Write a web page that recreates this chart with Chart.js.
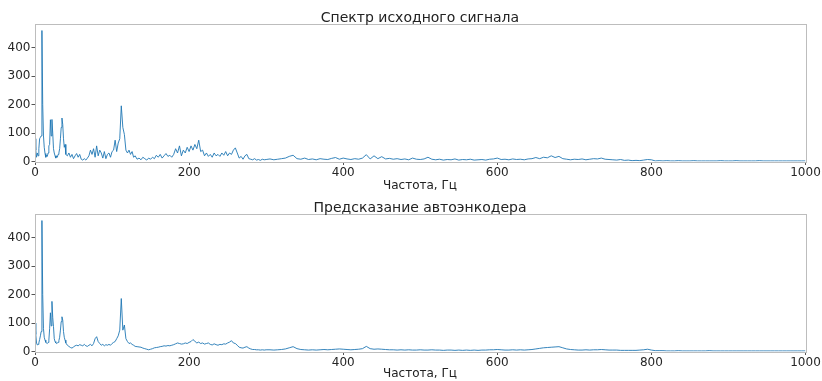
<!DOCTYPE html>
<html><head><meta charset="utf-8">
<script src="https://cdn.jsdelivr.net/npm/chart.js@4"></script>
<style>
html,body{margin:0;padding:0;background:#fff;}
#wrap{position:relative;width:822px;height:381px;overflow:hidden;font-family:"DejaVu Sans",sans-serif;color:#222;}
canvas{position:absolute;left:0;}
.t{position:absolute;left:0;width:840px;text-align:center;white-space:nowrap;}
</style></head>
<body><div id="wrap">
<canvas id="c1" width="822" height="190" style="top:0px"></canvas>
<canvas id="c2" width="822" height="191" style="top:190px"></canvas>
<div class="t" style="top:8px;font-size:14px;line-height:18px">Спектр исходного сигнала</div>
<div class="t" style="top:177px;font-size:12px;line-height:16px">Частота, Гц</div>
<div class="t" style="top:198px;font-size:14px;line-height:18px">Предсказание автоэнкодера</div>
<div class="t" style="top:365px;font-size:12px;line-height:16px">Частота, Гц</div>
</div>
<script>
// frequency grid segments: [start, end, step] (Hz)
const freqSegments = [[0,40,1],[42,130,2],[132.5,300,2.5],[305,1000,5]];
const xTicks = [0,200,400,600,800,1000];
const yTicks = [0,100,200,300,400];

// original signal spectrum
const origA = [80,40,15,30,20,45,80,85,90,461,200,90,50,28,15,22,18,30,55,60,147,90,148,100,45,30,20,12,20,15,25,30,45,80,120,153,130,80,50,60,25];
const origB = [20,30,15,25,10,20,28,15,25,8, 5,10,5,12,20,40,25,45,15,55, 20,40,30,12,35,10,25,30,15,35, 40,75,35,65,80,196,120,95,40,30, 40,25,35,15,20];
const origC = [8,12,6,15,10,5,12,8,15,10, 22,15,25,12,20,28,18,22,15,25, 45,30,55,20,40,30,50,35,55,40, 60,45,75,35,40,20,30,18,25,15, 30,20,25,18,30,22,35,20,30,25, 40,48,30,12,18,8,20,25,10,8, 6,10,5,7,4,8,6,7];
const origD = [9,6,8,10,12,18,22,10,8,12, 7,9,6,10,8,7,11,14,8,12, 9,7,10,8,12,24,9,20,10,17, 9,11,8,10,7,9,6,12,8,7,
  9,15,8,6,8,5,7,6,9,5, 7,6,8,5,6,7,5,8,9,12, 7,8,6,9,7,8,6,9,10,14, 10,15,13,20,14,18,10,8,6,8,
  7,9,6,8,10,9,12,8,7,6, 5,7,4,5,3,4,3,5,7,6, 2,3,2,3,2,2,3,2,2,2, 3,2,2,2,2,2,2,3,2,2,
  2,3,2,2,2,2,2,3,2,2, 2,2,2,2,2,2,2,2,2,2];

// autoencoder prediction
const predA = [100,60,30,23,25,30,42,55,70,460,200,80,50,40,32,30,28,32,40,80,136,90,176,120,87,45,35,30,28,30,32,38,50,75,105,122,110,70,50,40,30];
const predB = [22,18,14,12,16,20,22,20,24,22, 20,25,20,18,22,25,20,28,45,52, 35,28,22,25,20,24,22,25,22,28, 32,35,45,55,75,186,75,93,45,35, 28,30,25,22,18];
const predC = [17,16,15,12,10,8,6,8,10,13, 14,15,17,18,20,19,21,20,22,24, 27,30,28,26,27,30,28,32,35,42, 36,30,33,28,30,26,28,30,25,23, 27,24,22,25,24,27,26,30,33,38, 30,28,22,15,13,12,15,17,12,9, 7,7,6,6,5,6,5,6];
const predD = [6,5,6,7,9,13,17,10,7,6, 5,6,5,6,7,6,7,8,9,8, 7,6,7,8,10,18,10,8,9,8, 7,6,6,5,6,5,6,5,5,6,
  5,5,6,5,5,4,5,5,4,5, 4,5,4,5,4,5,5,6,6,7, 6,5,5,6,5,6,5,6,7,9, 11,13,14,15,16,17,13,9,7,6,
  5,5,6,5,6,6,7,6,5,5, 5,4,4,4,4,4,5,6,8,5, 3,3,3,2,2,2,3,2,2,2, 2,2,2,2,3,2,2,2,2,2,
  2,2,2,2,2,2,2,2,2,2, 2,2,2,2,2,2,2,2,2,2];

const freqs = [];
freqSegments.forEach(([a,b,s]) => { for (let f=a; f<=b+1e-9; f+=s) freqs.push(Math.round(f*10)/10); });
const origVals = [...origA, ...origB, ...origC, ...origD];
const predVals = [...predA, ...predB, ...predC, ...predD];

const framePlugin = {
  id:'frame',
  afterDatasetsDraw(chart){
    const {ctx, chartArea:a} = chart;
    ctx.save();
    ctx.strokeStyle = '#bdbdbd';
    ctx.lineWidth = 1;
    ctx.strokeRect(Math.round(a.left)+0.5, Math.round(a.top)+0.5, Math.round(a.right-a.left), Math.round(a.bottom-a.top));
    ctx.restore();
  }
};

function makeChart(id, vals, ymax, xh){
  const font = {family:'"DejaVu Sans", sans-serif', size:12};
  return new Chart(document.getElementById(id), {
    type:'line',
    data:{datasets:[{data:freqs.map((f,i)=>({x:f,y:vals[i]})), borderColor:'#1f77b4', borderWidth:0.9, pointRadius:0, tension:0, fill:false}]},
    options:{
      responsive:false, animation:false, devicePixelRatio:1,
      layout:{padding:{top:24, right:16.5, left:0, bottom:0}},
      plugins:{legend:{display:false}, tooltip:{enabled:false}},
      scales:{
        x:{type:'linear', min:0, max:1000,
          afterBuildTicks:s=>{s.ticks = xTicks.map(v=>({value:v}));},
          afterFit:s=>{s.height = xh;},
          ticks:{font, color:'#262626', padding:1, maxRotation:0, autoSkip:false, callback:v=>String(v)},
          grid:{drawOnChartArea:false, tickLength:3.5, color:'#555'},
          border:{display:false}},
        y:{type:'linear', min:0, max:ymax,
          afterBuildTicks:s=>{s.ticks = yTicks.map(v=>({value:v}));},
          afterFit:s=>{s.width = 35;},
          ticks:{font, color:'#262626', padding:1, autoSkip:false, callback:v=>String(v)},
          grid:{drawOnChartArea:false, tickLength:3.5, color:'#555'},
          border:{display:false}}
      }
    },
    plugins:[framePlugin]
  });
}
makeChart('c1', origVals, 484, 28.5);
makeChart('c2', predVals, 483, 29.5);
</script>
</body></html>
